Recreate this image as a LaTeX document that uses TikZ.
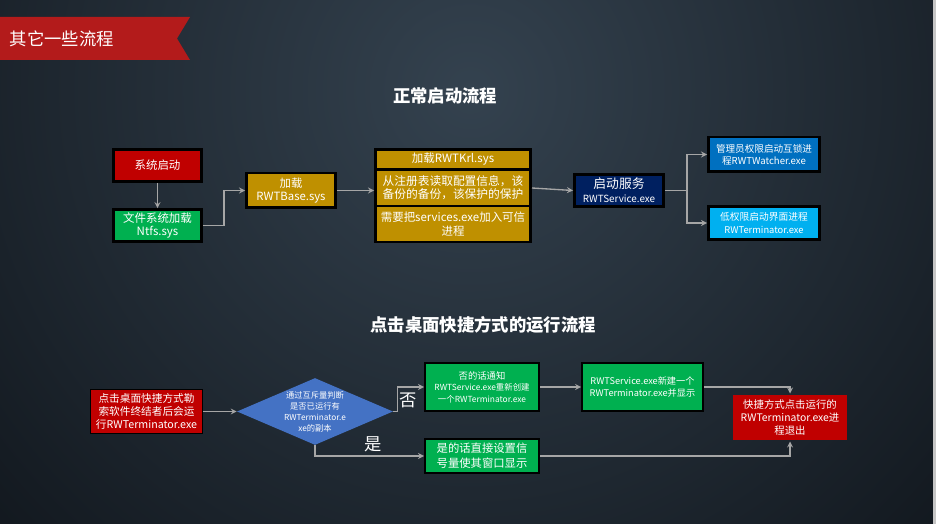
\documentclass[tikz,border=0pt]{standalone}
\usepackage{fontspec}
\setmainfont{Noto Sans CJK SC}
\usetikzlibrary{shapes.geometric}

\definecolor{bgmid}{HTML}{34424F}
\definecolor{bgout}{HTML}{05080C}
\definecolor{ribbon}{HTML}{B31B1B}
\definecolor{boxred}{HTML}{C00000}
\definecolor{boxgreen}{HTML}{00B050}
\definecolor{boxgold}{HTML}{BF9000}
\definecolor{boxnavy}{HTML}{002060}
\definecolor{boxblue}{HTML}{0070C0}
\definecolor{boxsky}{HTML}{00B0F0}
\definecolor{boxdiam}{HTML}{4472C4}
\definecolor{linkgray}{HTML}{A6A6A6}

\newcommand{\fs}[2]{\fontsize{#1}{#2}\selectfont}

\tikzset{flow/.style={draw=black,line width=2pt,text=white,align=center,inner sep=0pt}}
\tikzset{link/.style={draw=linkgray,line width=1pt,->,>=stealth}}
\tikzset{heading/.style={text=white,font=\fs{13}{15}\bfseries}}

\begin{document}
\begin{tikzpicture}[x=.75pt,y=-.75pt]
    \useasboundingbox (0,0) rectangle (936,524);
    \begin{scope}
      \clip (0,0) rectangle (933,524);
      \shade[inner color=bgmid,outer color=bgout] (470,90) circle (900);
    \end{scope}
    \fill[gray!45] (933,0) rectangle (936,524);
    % banner
    \fill[ribbon] (0,17) -- (190,17) -- (177,38.5) -- (190,60) -- (0,60) -- cycle;
    \node[text=white,anchor=west,font=\fs{13}{15}] (banner) at (5,38.5) {其它一些流程};
    % normal start
    \node[heading] (toptitle) at (445,96) {正常启动流程};
    \node[flow,fill=boxred,minimum width=66pt,minimum height=24pt,font=\fs{8.6}{10.5}] (boot) at (157.5,165.5) {系统启动};
    \node[flow,fill=boxgreen,minimum width=66pt,minimum height=24pt,font=\fs{8.6}{10}] (ntfs) at (157.5,225.5) {文件系统加载\\Ntfs.sys};
    \node[flow,fill=boxgold,minimum width=67pt,minimum height=26pt,font=\fs{8.5}{10}] (base) at (291,190.5) {加载\\RWTBase.sys};
    \node[flow,fill=boxgold,minimum width=116.5pt,minimum height=15pt,font=\fs{8.6}{10}] (krl) at (453,159.5) {加载RWTKrl.sys};
    \node[flow,fill=boxgold,minimum width=116.5pt,minimum height=27pt,font=\fs{8.8}{9.8}] (krlreg) at (453,188) {从注册表读取配置信息，该\\备份的备份，该保护的保护};
    \node[flow,fill=boxgold,minimum width=116.5pt,minimum height=27pt,font=\fs{8.6}{10}] (krlsvc) at (453,224) {需要把services.exe加入可信\\进程};
    \node[flow,fill=boxnavy,minimum width=67pt,minimum height=24pt,font=\fs{7.4}{10.5}] (svc) at (619,190.5) {\fs{9.6}{11}启动服务\\RWTService.exe};
    \node[flow,fill=boxblue,minimum width=83.5pt,minimum height=26pt,font=\fs{7.2}{9}] (watch) at (764,154.5) {管理员权限启动互锁进\\程RWTWatcher.exe};
    \node[flow,fill=boxsky,minimum width=83.5pt,minimum height=25pt,font=\fs{7}{9.5}] (term) at (764,223) {\fs{7.3}{9}低权限启动界面进程\\RWTerminator.exe};
    \draw[link] (boot) -- (ntfs);
    \draw[link] (ntfs.east) -- ++(21,0) |- (base.west);
    \draw[link] (base.east) -- (base.east -| krlreg.west);
    \draw[link] (krlreg.east) -- (svc.west);
    \draw[link] (svc.east) -- ++(22,0) |- (watch.west);
    \draw[link] (svc.east) -- ++(22,0) |- (term.west);
    % shortcut run
    \node[heading] (bottitle) at (483,325) {点击桌面快捷方式的运行流程};
    \node[flow,fill=boxred,line width=.6pt,minimum width=84pt,minimum height=33pt,font=\fs{8}{9.8}] (click) at (146.5,411.5) {点击桌面快捷方式勒\\索软件终结者后会运\\行RWTerminator.exe};
    \node[diamond,fill=boxdiam,text=white,align=center,inner sep=0pt,aspect=2.33,minimum width=117pt,minimum height=50pt,font=\fs{6.2}{8.2}] (check) at (315,411.5) {通过互斥量判断\\是否已运行有\\RWTerminator.e\\xe的副本};
    \node[flow,fill=boxgreen,line width=1.5pt,minimum width=85.5pt,minimum height=36pt,font=\fs{6.3}{8.6}] (notify) at (482,387) {\fs{7}{8.6}否的话通知\\RWTService.exe重新创建\\一个RWTerminator.exe};
    \node[flow,fill=boxgreen,line width=1.5pt,minimum width=90.5pt,minimum height=36pt,font=\fs{6.9}{9}] (newterm) at (642.5,387) {RWTService.exe新建一个\\RWTerminator.exe并显示};
    \node[flow,fill=boxgreen,line width=1.5pt,minimum width=85.5pt,minimum height=25.5pt,font=\fs{8.5}{11}] (direct) at (482,456) {是的话直接设置信\\号量使其窗口显示};
    \node[flow,draw=none,fill=boxred,minimum width=85.5pt,minimum height=34pt,font=\fs{7.8}{9.8}] (quit) at (790,417.5) {快捷方式点击运行的\\RWTerminator.exe进\\程退出};
    \draw[link] (click) -- (check);
    \draw[link] (check.east) -- ++(4,0) |- (notify.west);
    \draw[link] (check.south) |- (direct.west);
    \draw[link] (notify) -- (newterm);
    \draw[link] (newterm.east) -| (quit.north);
    \draw[link] (direct.east) -| (quit.south);
    \node[text=white,font=\fs{13}{15}] (nolabel) at (408,400) {否};
    \node[text=white,font=\fs{13}{15}] (yeslabel) at (373,444) {是};
\end{tikzpicture}
\end{document}
